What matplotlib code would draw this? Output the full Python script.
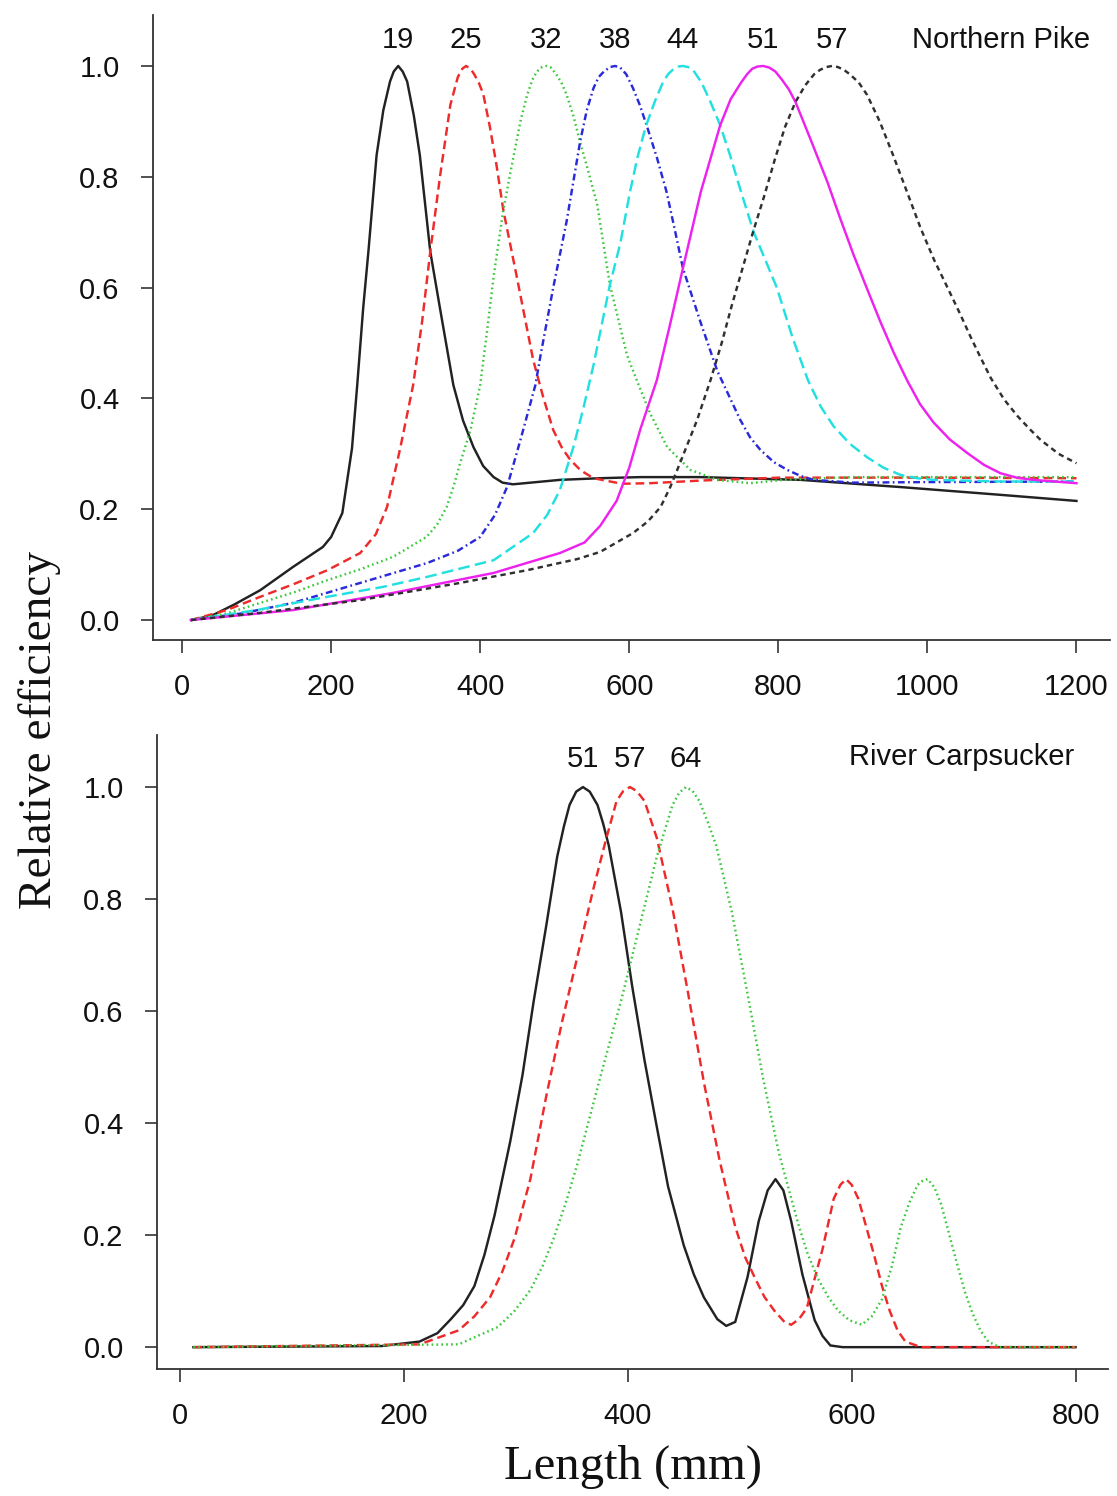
import numpy as np
import matplotlib
matplotlib.use('Agg')
import matplotlib.pyplot as plt

# ---- Northern Pike (mesh size labels and curves) ----
pike_labels = ['19', '25', '32', '38', '44', '51', '57']

pike_19_x = [12, 40, 70, 105, 149, 189, 200, 215, 228, 235, 243, 250, 261, 270, 279, 284, 290, 296, 302, 311,
             319, 333, 346, 364, 377, 391, 404, 418, 430, 444, 507, 561, 615, 695, 830, 964, 1098, 1200]
pike_19_y = [0.0, 0.008, 0.028, 0.054, 0.096, 0.132, 0.150, 0.193, 0.310, 0.424, 0.563, 0.665, 0.839, 0.92,
             0.972, 0.99, 1.0, 0.99, 0.972, 0.91, 0.839, 0.665, 0.563, 0.424, 0.36, 0.312, 0.278, 0.258, 0.248,
             0.245, 0.253, 0.256, 0.258, 0.258, 0.253, 0.240, 0.226, 0.215]

pike_25_x = [12, 60, 105, 150, 195, 239, 260, 275, 293, 310, 322, 333, 346, 360, 370, 376, 381, 387, 392, 398,
             404, 413, 422, 431, 449, 471, 485, 498, 510, 521, 535, 552, 590, 628, 700, 800, 1000, 1200]
pike_25_y = [0.0, 0.018, 0.042, 0.065, 0.090, 0.121, 0.155, 0.204, 0.312, 0.424, 0.538, 0.665, 0.80, 0.93, 0.98,
             0.995, 1.0, 0.995, 0.985, 0.97, 0.95, 0.89, 0.82, 0.74, 0.62, 0.47, 0.40, 0.343, 0.31, 0.289, 0.27,
             0.256, 0.246, 0.247, 0.252, 0.257, 0.257, 0.256]

pike_32_x = [12, 60, 105, 150, 195, 240, 283, 328, 342, 355, 364, 373, 387, 400, 410, 418, 431, 445, 454, 463,
             470, 476, 483, 489, 495, 502, 509, 516, 525, 534, 545, 557, 574, 597, 610, 628, 651, 682, 718, 762,
             807, 900, 1000, 1200]
pike_32_y = [0.0, 0.012, 0.031, 0.050, 0.072, 0.092, 0.114, 0.150, 0.172, 0.204, 0.24, 0.283, 0.343, 0.424,
             0.53, 0.62, 0.74, 0.839, 0.90, 0.948, 0.975, 0.99, 0.998, 1.0, 0.997, 0.985, 0.97, 0.948, 0.91, 0.863,
             0.81, 0.75, 0.605, 0.478, 0.433, 0.373, 0.312, 0.271, 0.253, 0.247, 0.253, 0.258, 0.258, 0.258]

pike_38_x = [12, 80, 149, 239, 329, 370, 400, 420, 436, 454, 474, 481, 498, 516, 534, 543, 552, 559, 566, 574,
             581, 588, 596, 605, 614, 624, 637, 650, 661, 672, 695, 718, 749, 762, 776, 794, 812, 830, 847, 900,
             1000, 1200]
pike_38_y = [0.0, 0.012, 0.031, 0.067, 0.103, 0.125, 0.150, 0.190, 0.240, 0.325, 0.424, 0.478, 0.60, 0.72, 0.863,
             0.92, 0.96, 0.98, 0.99, 0.998, 1.0, 0.997, 0.985, 0.96, 0.93, 0.89, 0.835, 0.773, 0.705, 0.635, 0.54,
             0.45, 0.361, 0.33, 0.307, 0.285, 0.271, 0.26, 0.253, 0.248, 0.249, 0.250]

pike_44_x = [12, 100, 195, 270, 329, 418, 471, 490, 507, 525, 538, 552, 574, 588, 601, 611, 622, 634, 645, 652,
             659, 666, 672, 679, 686, 697, 709, 722, 735, 749, 767, 798, 819, 840, 857, 874, 896, 919, 941, 964,
             986, 1008, 1100, 1200]
pike_44_y = [0.0, 0.018, 0.042, 0.060, 0.078, 0.108, 0.157, 0.190, 0.235, 0.312, 0.38, 0.46, 0.605, 0.68, 0.773,
             0.835, 0.89, 0.935, 0.97, 0.985, 0.994, 0.999, 1.0, 0.998, 0.992, 0.97, 0.935, 0.893, 0.84, 0.777,
             0.70, 0.60, 0.51, 0.432, 0.385, 0.35, 0.318, 0.294, 0.275, 0.262, 0.256, 0.253, 0.250, 0.250]

pike_51_x = [12, 149, 283, 418, 507, 540, 561, 583, 600, 615, 637, 655, 672, 696, 722, 736, 750, 758, 765, 772,
             780, 788, 796, 805, 814, 823, 844, 866, 883, 901, 919, 937, 955, 973, 990, 1008, 1030, 1054, 1076,
             1098, 1120, 1142, 1200]
pike_51_y = [0.0, 0.018, 0.049, 0.085, 0.121, 0.140, 0.170, 0.215, 0.275, 0.345, 0.433, 0.535, 0.635, 0.773,
             0.893, 0.94, 0.97, 0.985, 0.995, 0.999, 1.0, 0.997, 0.99, 0.975, 0.958, 0.935, 0.865, 0.79, 0.725,
             0.659, 0.598, 0.538, 0.482, 0.432, 0.39, 0.357, 0.326, 0.301, 0.28, 0.265, 0.257, 0.253, 0.247]

pike_57_x = [12, 105, 239, 373, 463, 530, 561, 605, 625, 642, 655, 668, 691, 709, 724, 738, 752, 766, 781, 795,
             809, 823, 836, 848, 856, 864, 872, 880, 888, 896, 908, 919, 936, 954, 972, 991, 1009, 1027, 1043,
             1058, 1072, 1085, 1103, 1121, 1137, 1152, 1176, 1200]
pike_57_y = [0.0, 0.013, 0.036, 0.067, 0.090, 0.110, 0.123, 0.157, 0.178, 0.204, 0.24, 0.283, 0.361, 0.433, 0.50,
             0.57, 0.635, 0.70, 0.765, 0.83, 0.89, 0.935, 0.965, 0.985, 0.993, 0.998, 1.0, 0.998, 0.993, 0.985,
             0.97, 0.948, 0.90, 0.839, 0.775, 0.707, 0.65, 0.60, 0.555, 0.511, 0.472, 0.437, 0.398, 0.368, 0.345,
             0.325, 0.30, 0.283]

# ---- River Carpsucker ----
carp_labels = ['51', '57', '64']

carp_51_x = [12, 180, 214, 230, 242, 253, 263, 272, 281, 295, 306, 316, 327, 337, 343, 348, 354, 360, 366, 373,
             378, 383, 394, 404, 415, 426, 436, 450, 459, 468, 480, 488, 496, 507, 517, 525, 532, 539, 546, 556,
             562, 567, 574, 581, 592, 800]
carp_51_y = [0.0, 0.002, 0.01, 0.025, 0.05, 0.075, 0.109, 0.165, 0.235, 0.367, 0.486, 0.618, 0.75, 0.876, 0.93,
             0.968, 0.992, 1.0, 0.992, 0.968, 0.935, 0.896, 0.777, 0.644, 0.512, 0.393, 0.287, 0.182, 0.13, 0.089,
             0.05, 0.038, 0.045, 0.125, 0.225, 0.28, 0.30, 0.28, 0.225, 0.13, 0.085, 0.048, 0.02, 0.003, 0.0, 0.0]

carp_57_x = [12, 214, 249, 263, 277, 288, 299, 313, 327, 341, 355, 369, 380, 390, 396, 402, 408, 415, 420, 426,
             440, 454, 468, 482, 496, 505, 514, 522, 531, 540, 546, 553, 560, 574, 584, 590, 595, 600, 606, 620,
             627, 634, 641, 648, 662, 800]
carp_57_y = [0.0, 0.005, 0.03, 0.055, 0.089, 0.135, 0.195, 0.30, 0.446, 0.578, 0.697, 0.816, 0.902, 0.975, 0.993,
             1.0, 0.993, 0.975, 0.945, 0.909, 0.783, 0.631, 0.473, 0.334, 0.215, 0.16, 0.122, 0.09, 0.065, 0.045,
             0.04, 0.05, 0.07, 0.175, 0.265, 0.29, 0.30, 0.29, 0.265, 0.165, 0.11, 0.065, 0.03, 0.01, 0.0, 0.0]

carp_64_x = [12, 249, 284, 299, 313, 324, 334, 345, 355, 376, 394, 412, 426, 440, 446, 452, 458, 464, 471, 479,
             493, 507, 521, 535, 553, 561, 570, 579, 588, 598, 609, 618, 627, 636, 644, 652, 659, 664, 668, 674,
             680, 694, 701, 708, 715, 722, 732, 800]
carp_64_y = [0.0, 0.005, 0.036, 0.065, 0.102, 0.145, 0.195, 0.26, 0.327, 0.486, 0.618, 0.763, 0.876, 0.968,
             0.99, 1.0, 0.993, 0.975, 0.94, 0.896, 0.777, 0.631, 0.479, 0.347, 0.215, 0.165, 0.122, 0.09, 0.065,
             0.048, 0.04, 0.055, 0.085, 0.145, 0.215, 0.26, 0.29, 0.298, 0.30, 0.285, 0.255, 0.15, 0.10, 0.06,
             0.03, 0.01, 0.0, 0.0]

pike_curves = [(pike_19_x, pike_19_y), (pike_25_x, pike_25_y), (pike_32_x, pike_32_y), (pike_38_x, pike_38_y),
               (pike_44_x, pike_44_y), (pike_51_x, pike_51_y), (pike_57_x, pike_57_y)]
carp_curves = [(carp_51_x, carp_51_y), (carp_57_x, carp_57_y), (carp_64_x, carp_64_y)]

# R-like line types: solid, dashed, dotted, dotdash, longdash, solid, short dash
styles = [dict(color='#222222', dashes=()),
          dict(color='#ee2a2a', dashes=(3.6, 2.0)),
          dict(color='#3cc83c', dashes=(0.7, 1.3)),
          dict(color='#2a2ad8', dashes=(2.8, 1.4, 0.7, 1.4)),
          dict(color='#22e0e0', dashes=(4.8, 2.2)),
          dict(color='#ee22ee', dashes=()),
          dict(color='#303030', dashes=(2.2, 1.7))]

sans = 'Liberation Sans'
serif = 'Liberation Serif'
tick_size = 21
lab_size = 21


def style_axes(ax, xlim, ylim, xticks):
    ax.set_xlim(*xlim)
    ax.set_ylim(*ylim)
    ax.set_xticks(xticks)
    ax.set_yticks([0.0, 0.2, 0.4, 0.6, 0.8, 1.0])
    ax.set_yticklabels(['%.1f' % v for v in [0.0, 0.2, 0.4, 0.6, 0.8, 1.0]])
    for s in ['top', 'right']:
        ax.spines[s].set_visible(False)
    for s in ['left', 'bottom']:
        ax.spines[s].set_linewidth(1.3)
        ax.spines[s].set_color('#333333')
    ax.tick_params(direction='out', length=9, width=1.2, color='#333333', pad=15)
    for lbl in ax.get_xticklabels() + ax.get_yticklabels():
        lbl.set_fontfamily(sans)
        lbl.set_fontsize(tick_size)
        lbl.set_color('#111111')


def draw_curves(ax, curves, labels, label_y):
    for i, (xs, ys) in enumerate(curves):
        st = styles[i]
        line, = ax.plot(xs, ys, color=st['color'], lw=1.75, solid_joinstyle='round')
        if st['dashes']:
            line.set_dashes(st['dashes'])
        peak_x = xs[int(np.argmax(ys))]
        ax.text(peak_x, label_y, labels[i], ha='center', va='center', fontsize=lab_size,
                family=sans, color='#111111')


fig = plt.figure(figsize=(11.17, 14.96), dpi=100)

ax1 = fig.add_axes([153 / 1117, 1 - 640 / 1496, (1110 - 153) / 1117, (640 - 15) / 1496])
draw_curves(ax1, pike_curves, pike_labels, 1.047)
ax1.text(1219, 1.047, 'Northern Pike', ha='right', va='center', fontsize=lab_size, family=sans, color='#111111')
style_axes(ax1, (-39, 1245), (-0.036, 1.092), [0, 200, 400, 600, 800, 1000, 1200])

ax2 = fig.add_axes([157 / 1117, 1 - 1369 / 1496, (1108 - 157) / 1117, (1369 - 735) / 1496])
draw_curves(ax2, carp_curves, carp_labels, 1.05)
ax2.text(799, 1.054, 'River Carpsucker', ha='right', va='center', fontsize=lab_size, family=sans, color='#111111')
style_axes(ax2, (-20.5, 829), (-0.039, 1.093), [0, 200, 400, 600, 800])

fig.text(40 / 1117, 1 - 730 / 1496, 'Relative efficiency', rotation=90, ha='center', va='center',
         fontsize=34, family=serif, color='#111111')
fig.text(633 / 1117, 1 - 1467 / 1496, 'Length (mm)', ha='center', va='center',
         fontsize=35, family=serif, color='#111111')

fig.savefig('out.png', dpi=100)
